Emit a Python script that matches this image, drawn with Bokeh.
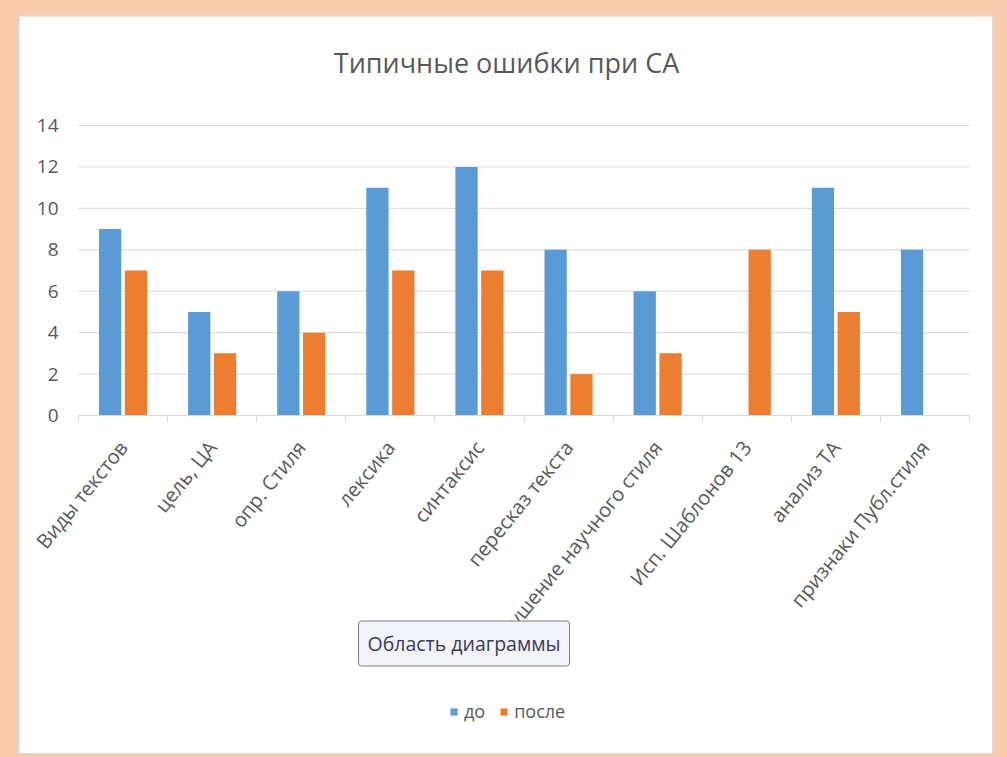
from bokeh.plotting import figure
from bokeh.models import (Range1d, LinearAxis, FixedTicker, Legend, LegendItem, Label,
                          ColumnDataSource)
from bokeh.layouts import column
from bokeh.embed import file_html
from bokeh.resources import INLINE
from bokeh.transform import dodge

categories = ["Виды текстов", "цель, ЦА", "опр. Стиля", "лексика", "синтаксис",
              "пересказ текста", "Нарушение научного стиля", "Исп. Шаблонов 13",
              "анализ ТА", "признаки Публ.стиля"]
before = [9, 5, 6, 11, 12, 8, 6, 0, 11, 8]
after = [7, 3, 4, 7, 7, 2, 3, 8, 5, 0]
series_names = ["до", "после"]
title_text = "Типичные ошибки при СА"
tooltip_text = "Область диаграммы"
y_ticks = [0, 2, 4, 6, 8, 10, 12, 14]

BLUE = "#5B9BD5"
ORANGE = "#ED7D31"
GRID = "#D9D9D9"
TXT = "#595959"
FONT = "Open Sans"

# layout geometry (pixels) of the chart box
W, H = 975, 739
PLOT_L, PLOT_R, PLOT_T, PLOT_B = 59, 950, 109, 399   # data area inside the box

n = len(categories)
idx = list(range(n))
src = ColumnDataSource(dict(idx=idx, cat=categories, before=before, after=after))

x0, x1 = -0.5, n - 0.5
y0, y1 = 0, 14
px_x = (PLOT_R - PLOT_L) / (x1 - x0)
px_y = (PLOT_B - PLOT_T) / (y1 - y0)
x_range = Range1d(x0 - PLOT_L / px_x, x1 + (W - PLOT_R) / px_x)
y_range = Range1d(y0 - (H - PLOT_B) / px_y, y1 + PLOT_T / px_y)

p = figure(x_range=x_range, y_range=y_range, width=W, height=H,
           output_backend="svg", toolbar_location=None,
           x_axis_location=None, y_axis_location=None, min_border=0)
p.center = []
p.outline_line_color = None
p.background_fill_color = "white"
p.border_fill_color = "white"
p.margin = (23, 14, 3, 26)
p.styles = {"border": "1px solid #D9D9D9"}

# horizontal gridlines over the category span
p.segment(x0=[x0] * len(y_ticks), x1=[x1] * len(y_ticks), y0=y_ticks, y1=y_ticks,
          line_color=GRID, line_width=1)

cat_axis = LinearAxis(ticker=FixedTicker(ticks=idx,
                                         minor_ticks=[i - 0.5 for i in range(n + 1)]),
                      major_label_overrides={i: c for i, c in zip(idx, categories)},
                      fixed_location=0, bounds=(x0, x1),
                      axis_line_color=GRID, major_tick_line_color=None,
                      major_tick_out=0, major_tick_in=0,
                      minor_tick_line_color=GRID, minor_tick_out=6, minor_tick_in=0,
                      major_label_orientation=0.89,
                      major_label_text_font_size="20px",
                      major_label_text_color=TXT,
                      major_label_text_font=FONT,
                      major_label_standoff=22)
p.add_layout(cat_axis, "below")

y_axis = LinearAxis(ticker=FixedTicker(ticks=y_ticks), fixed_location=x0,
                    axis_line_color=None, major_tick_line_color=None,
                    minor_tick_line_color=None, major_tick_out=0,
                    major_label_text_font_size="19px", major_label_text_color=TXT,
                    major_label_text_font=FONT, major_label_standoff=20)
p.add_layout(y_axis, "left")

r1 = p.vbar(x=dodge("idx", -0.145), top="before", width=0.25,
            source=src, fill_color=BLUE, line_color=None)
r2 = p.vbar(x=dodge("idx", 0.145), top="after", width=0.25,
            source=src, fill_color=ORANGE, line_color=None)

legend = Legend(items=[LegendItem(label=series_names[0], renderers=[r1]),
                       LegendItem(label=series_names[1], renderers=[r2])],
                orientation="horizontal", location=(430, 32),
                border_line_color=None, background_fill_alpha=0,
                label_text_font_size="18px", label_text_color=TXT,
                label_text_font=FONT, glyph_width=9, glyph_height=9,
                spacing=14, label_standoff=6, margin=0, padding=2)
p.add_layout(legend, "center")

p.add_layout(Label(x=487, y=693, x_units="screen", y_units="screen", text=title_text,
                   text_align="center", text_baseline="middle",
                   text_font_size="27px", text_color=TXT, text_font=FONT))

# tooltip box (as in the screenshot)
p.add_layout(Label(x=343, y=108, x_units="screen", y_units="screen", text=tooltip_text,
                   text_baseline="middle", text_font_size="19.5px", text_alpha=0,
                   text_font=FONT, background_fill_color="#8C8C8C",
                   background_fill_alpha=0.45, padding=9, border_radius=3))
p.add_layout(Label(x=339, y=112, x_units="screen", y_units="screen", text=tooltip_text,
                   text_baseline="middle", text_font_size="19.5px", text_color="#3B3B5B",
                   text_font=FONT, background_fill_color="#F3F3FA",
                   border_line_color="#7F7F7F", padding=9, border_radius=3))

layout = column(p, width=1015, height=765,
                styles={"margin": "-8px", "background-color": "#F8CBAD"})

open("out.html", "w").write(file_html(layout, INLINE))
